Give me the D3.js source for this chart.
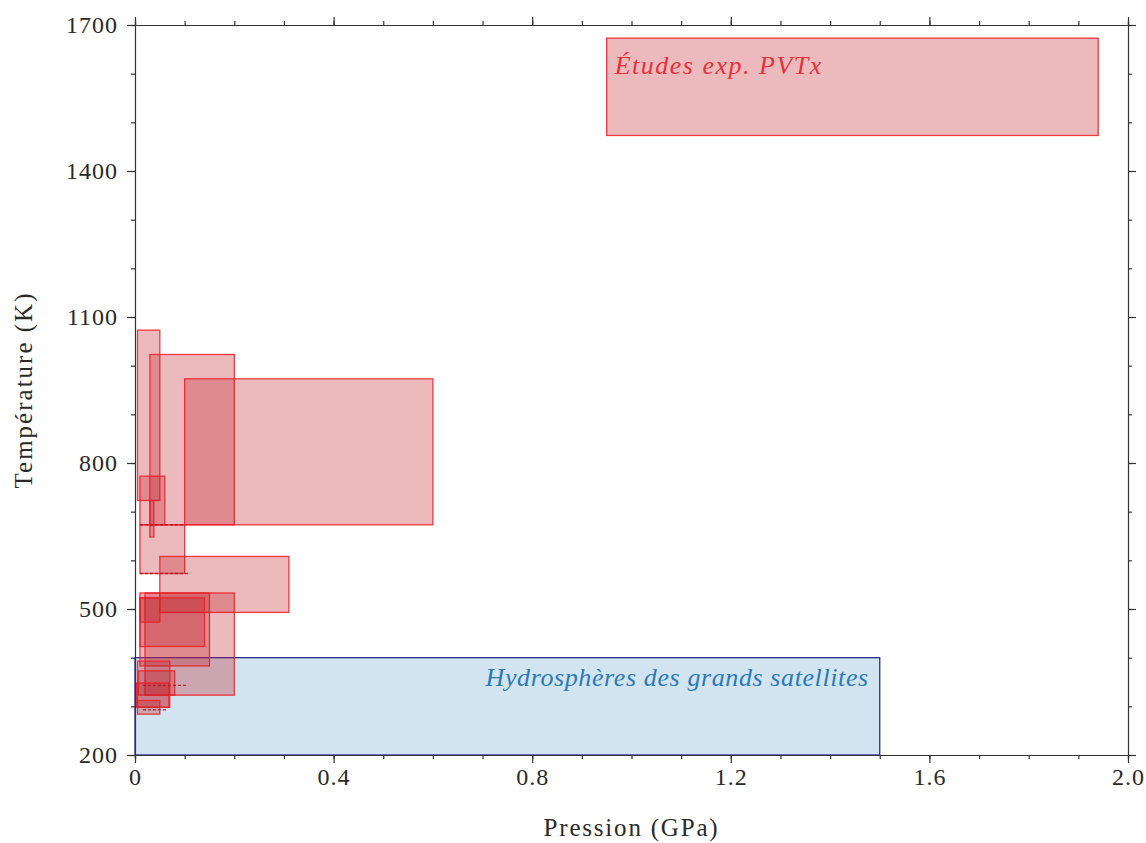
<!DOCTYPE html>
<html>
<head>
<meta charset="utf-8">
<script src="https://cdn.jsdelivr.net/npm/d3@7.9.0/dist/d3.min.js"></script>
<style>
  body { margin: 0; background: #fff; }
  svg text { font-family: "Liberation Serif", "DejaVu Serif", serif; fill: #2a2a2a; }
</style>
</head>
<body>
<svg id="chart" width="1146" height="843"></svg>
<script>
// experimental PVTx studies: pressure range (GPa) and temperature range (K)
const studyP0 = [0.005, 0.03, 0.10, 0.01, 0.030, 0.01, 0.05, 0.01, 0.02, 0.01, 0.01, 0.005, 0.007, 0.003, 0.005, 0.95];
const studyP1 = [0.050, 0.20, 0.60, 0.06, 0.038, 0.10, 0.31, 0.15, 0.20, 0.14, 0.05, 0.070, 0.080, 0.068, 0.050, 1.94];
const studyT0 = [723, 673, 673, 673, 648, 573, 493, 383, 323, 423, 473, 298, 323, 298, 284, 1473];
const studyT1 = [1073, 1023, 973, 773, 723, 673, 608, 533, 533, 523, 523, 393, 373, 348, 312, 1673];

// studies at a single temperature (drawn dashed)
const isoP0 = [0.01, 0.01, 0.016, 0.016];
const isoP1 = [0.10, 0.107, 0.107, 0.066];
const isoT = [673, 573, 343, 293];

// icy moon hydrospheres domain
const hydroP = [0, 1.5];
const hydroT = [200, 400];

const xTicks = [0, 0.4, 0.8, 1.2, 1.6, 2.0];
const yTicks = [200, 500, 800, 1100, 1400, 1700];

const svg = d3.select('#chart');
const margin = { top: 25, right: 18, bottom: 88, left: 135 };
const W = 1146, H = 843;

const x = d3.scaleLinear().domain([0, 2.0]).range([margin.left, W - margin.right]);
const y = d3.scaleLinear().domain([200, 1700]).range([H - margin.bottom, margin.top]);

const plot = svg.append('g');

// hydrosphere box
plot.append('rect')
  .attr('x', x(hydroP[0]))
  .attr('y', y(hydroT[1]))
  .attr('width', x(hydroP[1]) - x(hydroP[0]))
  .attr('height', y(hydroT[0]) - y(hydroT[1]))
  .attr('fill', 'rgba(31,119,180,0.2)')
  .attr('stroke', '#2b2b9b')
  .attr('stroke-width', 1.3);

// study boxes
studyP0.forEach((p0, i) => {
  plot.append('rect')
    .attr('x', x(p0))
    .attr('y', y(studyT1[i]))
    .attr('width', x(studyP1[i]) - x(p0))
    .attr('height', y(studyT0[i]) - y(studyT1[i]))
    .attr('fill', 'rgba(192,25,38,0.3)')
    .attr('stroke', 'rgba(238,28,37,0.85)')
    .attr('stroke-width', 1.3);
});

isoP0.forEach((p0, i) => {
  plot.append('line')
    .attr('x1', x(p0)).attr('x2', x(isoP1[i]))
    .attr('y1', y(isoT[i])).attr('y2', y(isoT[i]))
    .attr('stroke', 'rgba(170,20,30,0.8)')
    .attr('stroke-width', 1.4)
    .attr('stroke-dasharray', '3,2');
});

// labels
plot.append('text')
  .attr('x', x(studyP0[15]) + 8)
  .attr('y', y(1600))
  .attr('font-style', 'italic')
  .attr('font-size', 26)
  .attr('letter-spacing', 1.5)
  .style('fill', '#e8303a')
  .text('Études exp. PVTx');

plot.append('text')
  .attr('x', x(hydroP[1]) - 11)
  .attr('y', y(342))
  .attr('text-anchor', 'end')
  .attr('font-style', 'italic')
  .attr('font-size', 26)
  .attr('letter-spacing', 0.6)
  .style('fill', '#2a7ab9')
  .text('Hydrosphères des grands satellites');

// axes on all four sides, ticks outward
const xMinor = d3.range(0, 2.0001, 0.1);
const yMinor = d3.range(200, 1700.1, 100);
const fmtX = d => d === 0 ? '0' : d3.format('.1f')(d);

function styleAxis(g) {
  g.selectAll('path, line').attr('stroke', '#333').attr('stroke-width', 1.2);
  g.selectAll('text').attr('font-size', 24).attr('letter-spacing', 1).style('fill', '#2a2a2a');
}

const xb = H - margin.bottom, xt = margin.top, yl = margin.left, yr = W - margin.right;

svg.append('g').attr('transform', `translate(0,${xb})`)
  .call(d3.axisBottom(x).tickValues(xMinor).tickSize(4).tickFormat(''))
  .call(styleAxis);
svg.append('g').attr('transform', `translate(0,${xb})`)
  .call(d3.axisBottom(x).tickValues(xTicks).tickSize(8).tickPadding(5).tickFormat(fmtX))
  .call(styleAxis).call(g => g.select('.domain').remove());

svg.append('g').attr('transform', `translate(0,${xt})`)
  .call(d3.axisTop(x).tickValues(xMinor).tickSize(4).tickFormat(''))
  .call(styleAxis);
svg.append('g').attr('transform', `translate(0,${xt})`)
  .call(d3.axisTop(x).tickValues(xTicks).tickSize(8).tickFormat(''))
  .call(styleAxis).call(g => g.select('.domain').remove());

svg.append('g').attr('transform', `translate(${yl},0)`)
  .call(d3.axisLeft(y).tickValues(yMinor).tickSize(4).tickFormat(''))
  .call(styleAxis);
svg.append('g').attr('transform', `translate(${yl},0)`)
  .call(d3.axisLeft(y).tickValues(yTicks).tickSize(8).tickPadding(9).tickFormat(d3.format('d')))
  .call(styleAxis).call(g => g.select('.domain').remove());

svg.append('g').attr('transform', `translate(${yr},0)`)
  .call(d3.axisRight(y).tickValues(yMinor).tickSize(4).tickFormat(''))
  .call(styleAxis);
svg.append('g').attr('transform', `translate(${yr},0)`)
  .call(d3.axisRight(y).tickValues(yTicks).tickSize(8).tickFormat(''))
  .call(styleAxis).call(g => g.select('.domain').remove());

// axis titles
svg.append('text')
  .attr('x', (yl + yr) / 2)
  .attr('y', 836)
  .attr('text-anchor', 'middle')
  .attr('font-size', 25)
  .attr('letter-spacing', 1.8)
  .text('Pression (GPa)');

svg.append('text')
  .attr('transform', `translate(32,${(xt + xb) / 2}) rotate(-90)`)
  .attr('text-anchor', 'middle')
  .attr('font-size', 25)
  .attr('letter-spacing', 2)
  .text('Température (K)');
</script>
</body>
</html>
